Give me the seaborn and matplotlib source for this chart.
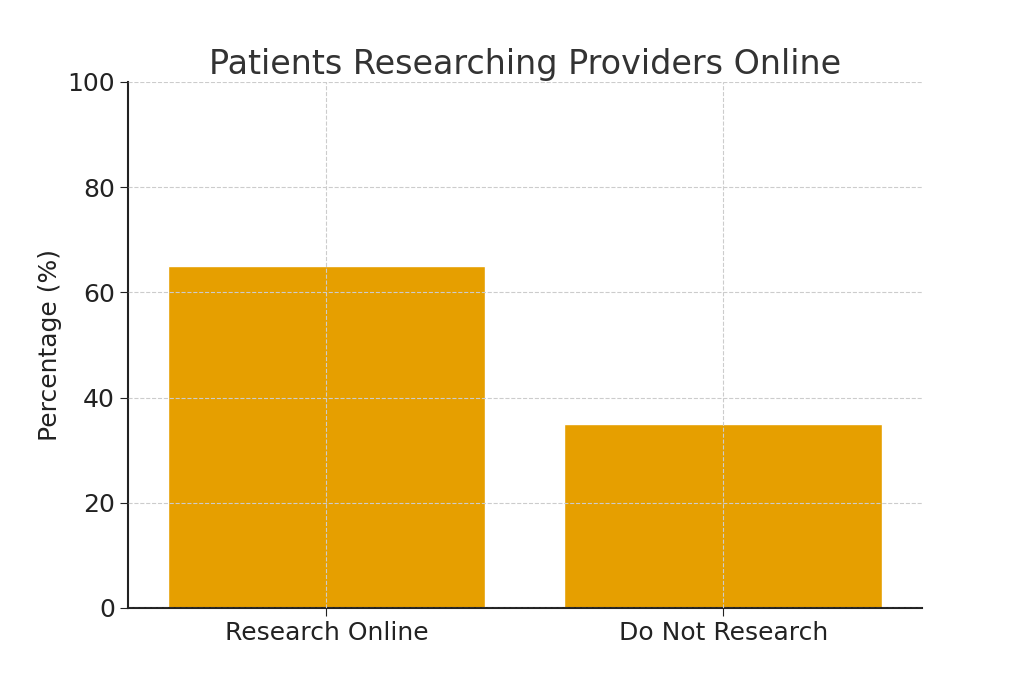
import matplotlib
matplotlib.use("Agg")
import matplotlib.pyplot as plt
import seaborn as sns
import pandas as pd

categories = ["Research Online", "Do Not Research"]
values = [65, 35]

sns.set_style("whitegrid", {"grid.linestyle": "--", "grid.color": "#cccccc",
                            "axes.edgecolor": "#222222"})
plt.rcParams['font.family'] = ['DejaVu Sans']
fig, ax = plt.subplots(figsize=(10.24, 6.83), dpi=100)
df = pd.DataFrame({"cat": categories, "val": values})
sns.barplot(data=df, x="cat", y="val", color="#E69F00", saturation=1, width=0.8, ax=ax)
ax.set_ylim(0, 100)
ax.set_xlim(-0.5, 1.5)
ax.set_title("Patients Researching Providers Online", fontsize=24, color="#333333")
ax.set_ylabel("Percentage (%)", fontsize=18, color="#222222")
ax.set_xlabel("")
ax.tick_params(labelsize=18, colors="#222222", length=6, bottom=True, left=True)
ax.set_axisbelow(False)
ax.grid(True, linestyle="--", color="#cccccc", linewidth=0.8)
sns.despine(ax=ax)
for s in ["left", "bottom"]:
    ax.spines[s].set_linewidth(1.5)
plt.subplots_adjust(left=0.125, right=0.9, top=0.88, bottom=0.11)
fig.savefig("out.png", dpi=100)
